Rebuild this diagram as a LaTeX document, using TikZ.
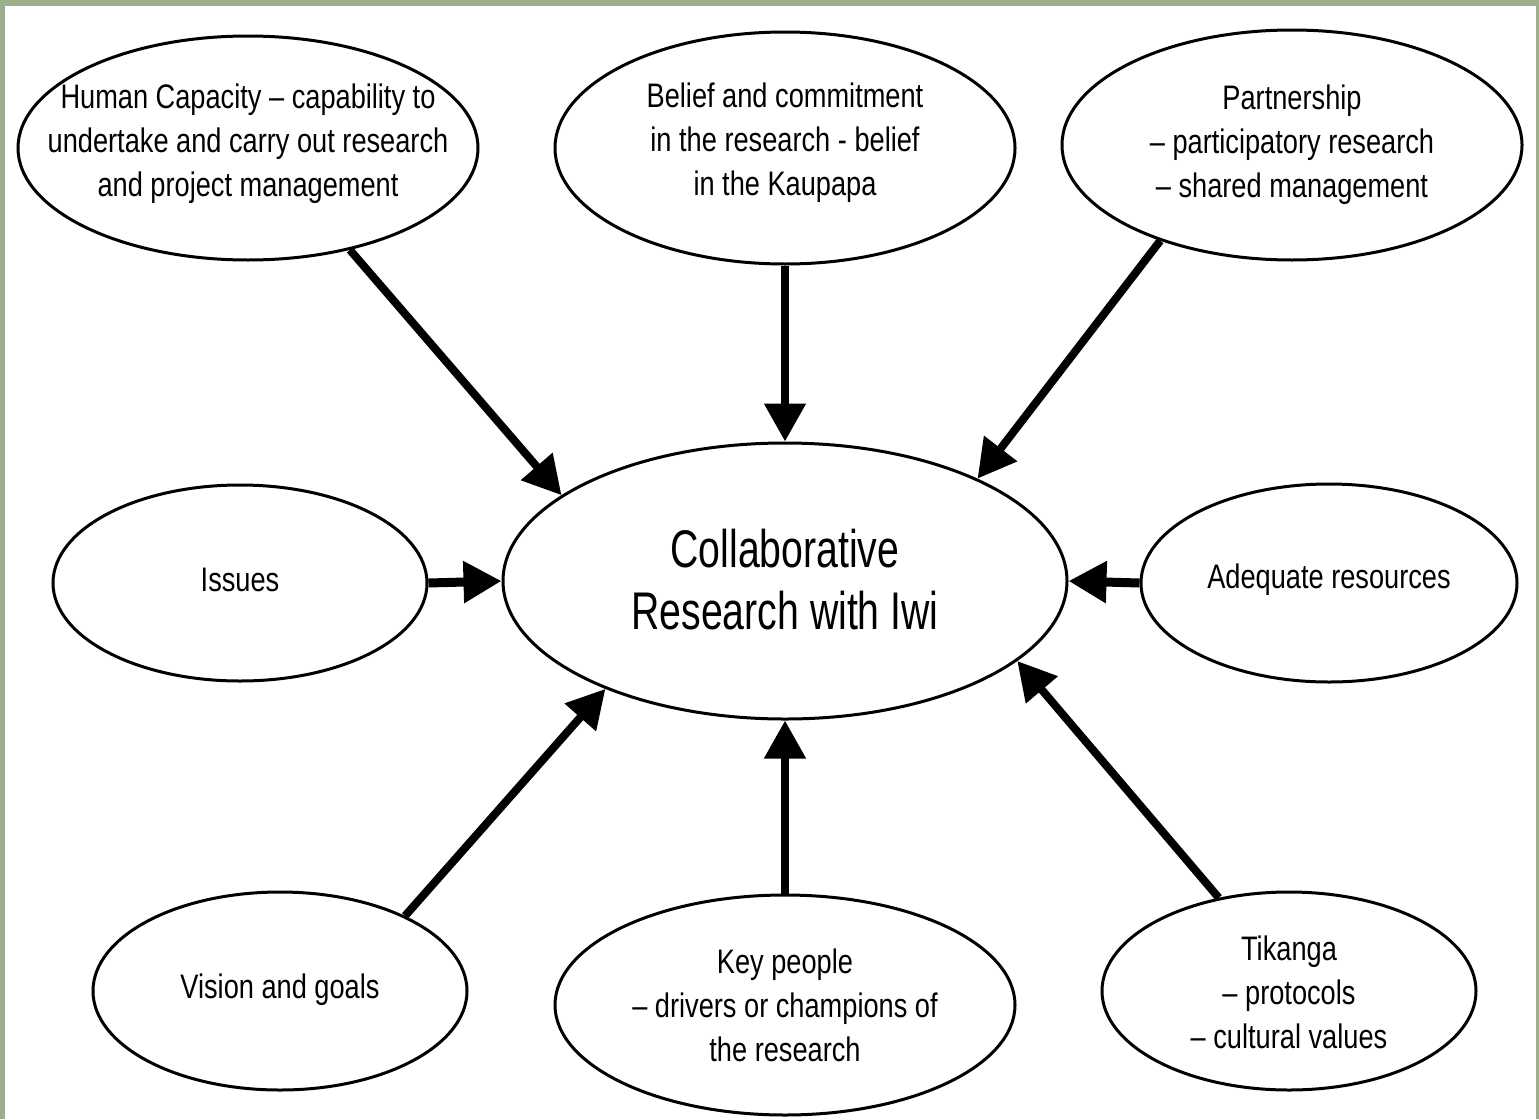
\documentclass[tikz,border=0pt]{standalone}
\usepackage{fontspec}
\setmainfont{Liberation Sans}[FakeStretch=0.8]
\newfontfamily\bigfont{Liberation Sans}[FakeStretch=0.74]
\usetikzlibrary{shapes.geometric,arrows.meta}
\definecolor{frame}{HTML}{9DAE8C}
\tikzset{
  bubble/.style={draw=black, line width=3pt, ellipse, inner sep=0pt, fill=white},
  txt/.style={align=center, font=\fontsize{34}{44}\selectfont, inner sep=0pt},
  bigtxt/.style={align=center, font=\bigfont\fontsize{53}{62}\selectfont, inner sep=0pt},
  link/.style={line width=8pt, -{Triangle[length=38pt,width=40pt]}}
}
\begin{document}
\begin{tikzpicture}[x=1pt,y=-1pt]
\useasboundingbox (0,0) rectangle (1539,1119);
\fill[frame] (0,0) rectangle (1539,1119);
\fill[white] (5,6) rectangle (1536,1119);
% ellipses
\node[bubble, minimum width=460pt, minimum height=224pt] (hc) at (248,148) {};
\node[bubble, minimum width=460pt, minimum height=232pt] (bc) at (785,148) {};
\node[bubble, minimum width=460pt, minimum height=230pt] (pa) at (1292,145) {};
\node[bubble, minimum width=374pt, minimum height=196pt] (is) at (240,583) {};
\node[bubble, minimum width=564pt, minimum height=276pt] (c) at (785,581) {};
\node[bubble, minimum width=376pt, minimum height=198pt] (ad) at (1329,583) {};
\node[bubble, minimum width=374pt, minimum height=198pt] (vg) at (280,991) {};
\node[bubble, minimum width=460pt, minimum height=220pt] (kp) at (785,1005) {};
\node[bubble, minimum width=374pt, minimum height=198pt] (tk) at (1289,991) {};
% texts
\node[txt] (hct) at (248,144) {Human Capacity -- capability to\\undertake and carry out research\\and project management};
\node[txt] (bct) at (785,143) {Belief and commitment\\in the research - belief\\in the Kaupapa};
\node[txt] (pat) at (1292,145) {Partnership\\-- participatory research\\-- shared management};
\node[txt] (ist) at (240,580) {Issues};
\node[bigtxt] (ct) at (785,580) {Collaborative\\Research with Iwi};
\node[txt] (adt) at (1329,580) {Adequate resources};
\node[txt] (vgt) at (280,990) {Vision and goals};
\node[txt] (kpt) at (785,1005) {Key people\\-- drivers or champions of\\the research};
\node[txt] (tkt) at (1289,992) {Tikanga\\-- protocols\\-- cultural values};
% arrows
\draw[link] (hc.-45) -- (c.159);
\draw[link] (bc.-90) -- (c.90);
\draw[link] (pa.-144) -- (c.28);
\draw[link, line width=9pt] (is.0) -- (c.180);
\draw[link, line width=9pt] (ad.180) -- (c.0);
\draw[link] (vg.31) -- (c.-149);
\draw[link] (kp.90) -- (c.-90);
\draw[link] (tk.127) -- (c.-19);
\end{tikzpicture}
\end{document}
